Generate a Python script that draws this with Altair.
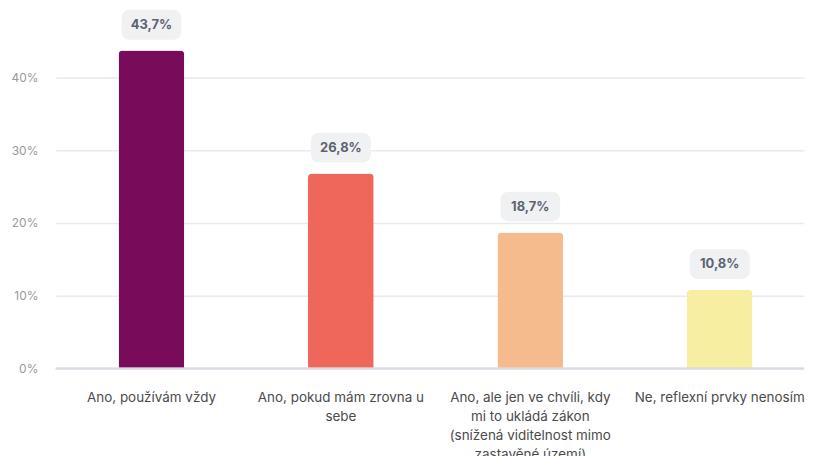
import altair as alt
import pandas as pd

categories = [
    "Ano, používám vždy",
    "Ano, pokud mám zrovna u|sebe",
    "Ano, ale jen ve chvíli, kdy|mi to ukládá zákon|(snížená viditelnost mimo|zastavěné území)",
    "Ne, reflexní prvky nenosím",
]
values = [43.7, 26.8, 18.7, 10.8]
labels = ["43,7%", "26,8%", "18,7%", "10,8%"]
colors = ["#780c5a", "#ef665b", "#f6bb8d", "#f8eea1"]

df = pd.DataFrame({"cat": categories, "val": values, "lab": labels, "col": colors})

FONT = "Inter"
x = alt.X("cat:N", sort=categories, title=None,
          scale=alt.Scale(paddingInner=0.65, paddingOuter=0.3, align=0.55),
          axis=alt.Axis(labelAngle=0, labelExpr="split(datum.label, '|')",
                        labelPadding=22, labelLineHeight=19, labelFontSize=13.5,
                        labelColor="#4a4a4a", labelFont=FONT, ticks=False,
                        domain=False, labelLimit=300, labelBaseline="top"))
yscale = alt.Scale(domain=[0, 49.3], nice=False)

bars = alt.Chart(df).mark_bar(size=66, cornerRadiusTopLeft=4, cornerRadiusTopRight=4).encode(
    x=x,
    y=alt.Y("val:Q", scale=yscale, title=None,
            axis=alt.Axis(values=[0, 10, 20, 30, 40], labelExpr="datum.value + '%'",
                          ticks=False, domain=False, labelPadding=18, labelFontSize=12,
                          labelColor="#9a9a9a", labelFont=FONT, gridColor="#e9e9ee",
                          gridWidth=1.5)),
    color=alt.Color("col:N", scale=None),
)

boxes = alt.Chart(df).transform_calculate(
    lo="datum.val + 1.5", hi="datum.val + 5.6"
).mark_bar(size=60, cornerRadius=8, color="#eff1f3").encode(
    x=alt.X("cat:N", sort=categories),
    y=alt.Y("lo:Q", scale=yscale),
    y2="hi:Q",
)

texts = alt.Chart(df).mark_text(dy=-26, fontSize=13, fontWeight="bold", color="#5c6370",
                                font=FONT, baseline="middle").encode(
    x=alt.X("cat:N", sort=categories),
    y=alt.Y("val:Q", scale=yscale),
    text="lab:N",
)

base_line = alt.Chart(df).mark_rule(color="#d9d9e3", strokeWidth=1.5).encode(y=alt.datum(0))

chart = alt.layer(bars, base_line, boxes, texts).properties(
    width=751, height=360,
    padding={"left": 2, "top": 0, "right": 0, "bottom": 0},
).configure(font=FONT).configure_view(strokeWidth=0, stroke=None)

chart.save("out.html", embed_options={"renderer": "svg", "actions": False})
